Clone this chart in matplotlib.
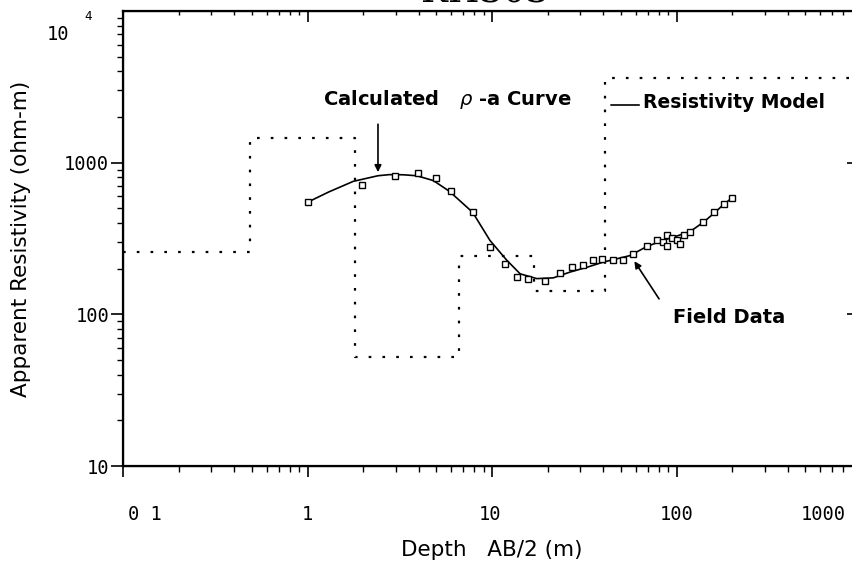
import matplotlib
matplotlib.use('Agg')
import matplotlib.pyplot as plt

# sondage KH303 - resistivite apparente
field_x = [1.0, 1.97, 2.98, 3.95, 4.95, 5.97, 7.85, 9.8, 11.7, 13.6, 15.7, 19.4,
           23.4, 27.0, 31.3, 35.4, 39.3, 45.4, 51.5, 58.3, 68.9, 78.2, 84.0,
           88.5, 88.5, 95.0, 100.0, 104.0, 110.0, 118.0, 140.0, 160.0, 180.0, 199.0]
field_y = [548, 716, 813, 851, 793, 655, 471, 277, 215, 176, 170, 165,
           187, 205, 210, 227, 232, 227, 229, 251, 284, 307, 300,
           331, 284, 320, 307, 290, 335, 347, 405, 471, 535, 586]

curve_x = [1.0, 1.3, 1.77, 2.41, 2.78, 3.3, 3.91, 4.81, 5.87, 7.85, 9.75, 12.0,
           14.2, 17.5, 21.5, 26.5, 33.0, 40.1, 56.0, 69.0, 85.0, 100.0, 118.0,
           140.0, 160.0, 180.0, 205.0]
curve_y = [548, 640, 753, 820, 834, 832, 820, 762, 648, 471, 307, 228,
           185, 172, 174, 190, 205, 221, 244, 280, 308, 328, 350,
           405, 465, 530, 600]

# modele de couches
model_edges = [0.1, 0.49, 1.82, 6.6, 16.9, 41.0, 1000]
model_res = [256, 1460, 52, 241, 142, 3600]

x_ticks = [0.1, 1, 10, 100, 1000]
x_labels = ['0 1', '1', '10', '100', '1000']
x_label_shift = [22, 0, -2, 0, -38]
y_ticks = [10, 100, 1000]
y_labels = ['10', '100', '1000']

plt.rcParams['font.family'] = ['DejaVu Sans']
mono = 'DejaVu Sans Mono'

fig = plt.figure(figsize=(8.53, 5.67), dpi=100)
ax = fig.add_axes([123/853, 101/567, 738/853, 455/567])

ax.step(model_edges, model_res + [model_res[-1]], where='post', color='black',
        lw=1.6, linestyle=(0, (1.2, 5)))
ax.plot(curve_x, curve_y, color='black', lw=1.2)
ax.plot(field_x, field_y, ls='none', marker='s', ms=5, mfc='white', mec='black', mew=1.0)

ax.set_xscale('log')
ax.set_yscale('log')
ax.set_xlim(0.1, 1000)
ax.set_ylim(10, 10000)

for s in ax.spines.values():
    s.set_linewidth(1.6)

ax.set_xticks(x_ticks)
ax.set_xticklabels([])
ax.set_yticks(y_ticks)
ax.set_yticklabels(y_labels, family=mono, fontsize=13.5)
ax.tick_params(axis='x', which='major', direction='out', length=8, width=1.2)
ax.tick_params(axis='x', which='minor', direction='out', length=4, width=1)
ax.tick_params(axis='y', which='major', direction='out', length=9, width=1.2, pad=1)
ax.tick_params(axis='y', which='minor', direction='out', length=4, width=1)
ax.yaxis.set_minor_formatter(matplotlib.ticker.NullFormatter())
ax.xaxis.set_minor_formatter(matplotlib.ticker.NullFormatter())

for v, lab, dx in zip(x_ticks, x_labels, x_label_shift):
    ax.annotate(lab, xy=(v, 0), xycoords=('data', 'axes fraction'),
                xytext=(dx * 0.72, -35), textcoords='offset points',
                ha='center', va='center', family=mono, fontsize=13.5)

# etiquette 10^4
ax.annotate('10', xy=(0, 1), xycoords='axes fraction', xytext=(-47, -17),
            textcoords='offset points', ha='center', va='center', family=mono, fontsize=13.5)
ax.annotate('4', xy=(0, 1), xycoords='axes fraction', xytext=(-25, -4),
            textcoords='offset points', ha='center', va='center', family=mono, fontsize=9)

# axes haut / droite avec graduations vers l'interieur
axt = ax.twiny()
axt.set_xscale('log')
axt.set_xlim(ax.get_xlim())
axt.set_xticks(x_ticks)
axt.set_xticklabels([])
axt.xaxis.set_minor_formatter(matplotlib.ticker.NullFormatter())
axt.tick_params(axis='x', which='major', direction='in', length=8, width=1.2)
axt.tick_params(axis='x', which='minor', direction='in', length=3, width=1)
axr = ax.twinx()
axr.set_yscale('log')
axr.set_ylim(ax.get_ylim())
axr.set_yticks(y_ticks)
axr.set_yticklabels([])
axr.yaxis.set_minor_formatter(matplotlib.ticker.NullFormatter())
axr.tick_params(axis='y', which='major', direction='in', length=10, width=1.2)
axr.tick_params(axis='y', which='minor', direction='in', length=0)

ax.set_ylabel('Apparent Resistivity (ohm-m)', fontsize=15.5, labelpad=24)
ax.set_xlabel('Depth   AB/2 (m)', fontsize=15.5, labelpad=42)

ax.annotate('', xy=(2.41, 830), xytext=(2.41, 1870),
            arrowprops=dict(arrowstyle='-|>', color='black', lw=1.2, mutation_scale=10))
ax.text(5.7, 2600, r'Calculated   $\rho$ -a Curve', fontsize=14, fontweight='bold',
        ha='center', va='center')

ax.annotate('', xy=(42.6, 2400), xytext=(65, 2400),
            arrowprops=dict(arrowstyle='-', color='black', lw=1.2))
ax.text(66, 2480, 'Resistivity Model', fontsize=13.5, fontweight='bold',
        ha='left', va='center')

ax.annotate('', xy=(58, 232), xytext=(82, 122),
            arrowprops=dict(arrowstyle='-|>', color='black', lw=1.2, mutation_scale=10))
ax.text(96, 95, 'Field Data', fontsize=14, fontweight='bold', ha='left', va='center')

fig.text(485/853, 1 - 2/567, 'KH303', fontsize=26, family='DejaVu Serif',
         fontweight='light', ha='center', va='baseline')

fig.savefig('out.png', dpi=100)
